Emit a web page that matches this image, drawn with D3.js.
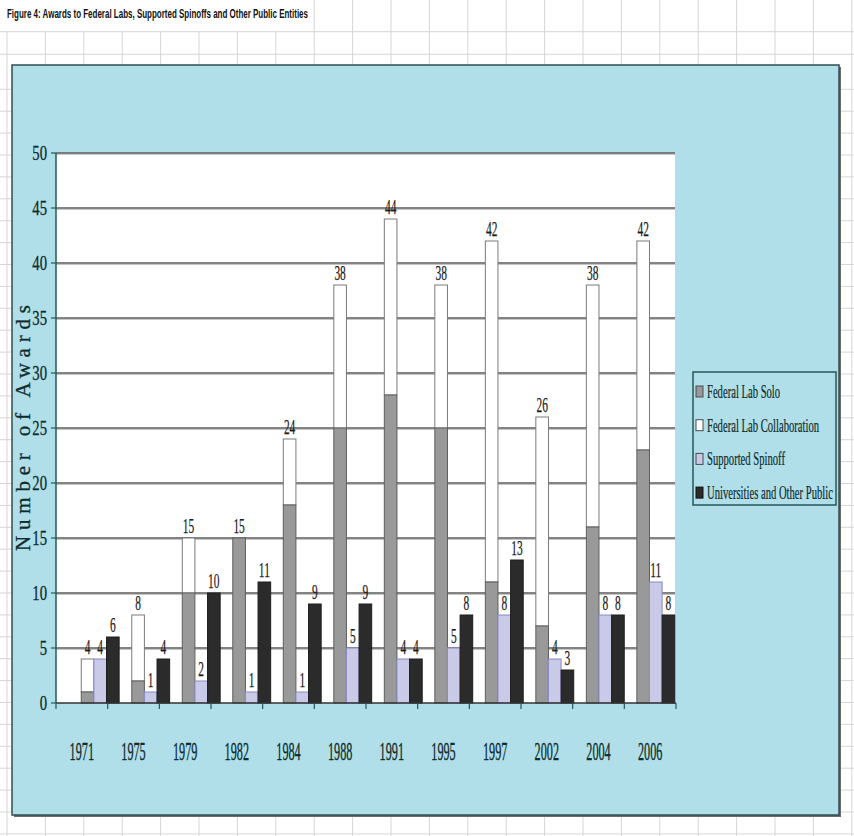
<!DOCTYPE html>
<html>
<head>
<meta charset="utf-8">
<script src="https://cdn.jsdelivr.net/npm/d3@7"></script>
<style>
  html, body { margin: 0; padding: 0; background: #fff; }
  svg { display: block; }
</style>
</head>
<body>
<script>
// ---------------- data ----------------
const titleText = "Figure 4: Awards to Federal Labs, Supported Spinoffs and Other Public Entities";
const years = ["1971","1975","1979","1982","1984","1988","1991","1995","1997","2002","2004","2006"];
const fedSolo = [1, 2, 10, 15, 18, 25, 28, 25, 11, 7, 16, 23];
const fedCollab = [3, 6, 5, 0, 6, 13, 16, 13, 31, 19, 22, 19];
const spinoff = [4, 1, 2, 1, 1, 5, 4, 5, 8, 4, 8, 11];
const universities = [6, 4, 10, 11, 9, 9, 4, 8, 13, 3, 8, 8];
const yTicks = [0, 5, 10, 15, 20, 25, 30, 35, 40, 45, 50];
const seriesNames = ["Federal Lab Solo", "Federal Lab Collaboration", "Supported Spinoff", "Universities and Other Public"];
const yTitle = "Number of Awards";

// ---------------- setup ----------------
const W = 854, H = 836;
const svg = d3.select("body").append("svg").attr("width", W).attr("height", H);
const serif = "'Liberation Serif', 'Times New Roman', serif";
const sans = "'Liberation Sans', Arial, sans-serif";
const textColor = "#0f2c2c";

function squish(sel, factor) {
  sel.each(function () {
    const len = this.getComputedTextLength();
    d3.select(this).attr("textLength", len * factor).attr("lengthAdjust", "spacingAndGlyphs");
  });
}

// spreadsheet grid background
const gridG = svg.append("g").attr("stroke", "#d6d6d6").attr("stroke-width", 1);
const colXs = d3.range(0, 23).map(k => 7 + 38.4 * k);
const rowYs = [31.7, 54.3].concat(d3.range(0, 36).map(k => 89.3 + 21.9 * k));
colXs.forEach(x => gridG.append("line").attr("x1", x).attr("x2", x).attr("y1", 0).attr("y2", H));
rowYs.forEach(y => gridG.append("line").attr("x1", 0).attr("x2", W).attr("y1", y).attr("y2", y));
// title cell overflow
svg.append("rect").attr("x", 0).attr("y", 0).attr("width", 312).attr("height", 31).attr("fill", "#fff");
svg.append("text").attr("x", 7).attr("y", 18).attr("font-family", sans).attr("font-weight", "bold")
  .attr("font-size", 12).attr("fill", "#111").text(titleText)
  .attr("textLength", 301).attr("lengthAdjust", "spacingAndGlyphs");

// chart area
const CA = { x: 12, y: 65, w: 827, h: 750 };
svg.append("rect").attr("x", CA.x + 2).attr("y", CA.y + 2).attr("width", CA.w).attr("height", CA.h).attr("fill", "#6b6b6b");
svg.append("rect").attr("x", CA.x).attr("y", CA.y).attr("width", CA.w).attr("height", CA.h)
  .attr("fill", "#b0dfea").attr("stroke", "#2f4f4f").attr("stroke-width", 1.5);

// plot area
const P = { left: 56, right: 675, top: 153, bottom: 703 };
svg.append("rect").attr("x", P.left).attr("y", P.top).attr("width", P.right - P.left).attr("height", P.bottom - P.top).attr("fill", "#fff");

const y = d3.scaleLinear().domain([0, 50]).range([P.bottom, P.top]);
const xAxisScale = d3.scaleBand().domain(years).range([P.left, P.right + 1]).padding(0);
const xGroup = d3.scaleBand().domain(years).range([P.left, 700]).paddingInner(0.25).paddingOuter(0.5);
const xSub = d3.scaleBand().domain(["fed", "spin", "univ"]).range([0, xGroup.bandwidth()]).padding(0);

// gridlines
const gl = svg.append("g");
yTicks.filter(t => t > 0).forEach(t => {
  gl.append("line").attr("x1", P.left).attr("x2", P.right).attr("y1", y(t) + 1.5).attr("y2", y(t) + 1.5).attr("stroke", "#c4c4c4").attr("stroke-width", 1.2);
  gl.append("line").attr("x1", P.left).attr("x2", P.right).attr("y1", y(t)).attr("y2", y(t)).attr("stroke", "#5a5a5a").attr("stroke-width", 1.3);
});

// bars
const rows = years.map((yr, i) => ({ yr, solo: fedSolo[i], collab: fedCollab[i], spin: spinoff[i], univ: universities[i] }));
const bars = svg.append("g");
rows.forEach(d => {
  const gx = xGroup(d.yr);
  const bw = xSub.bandwidth();
  if (d.collab > 0) {
    bars.append("rect").attr("x", gx + xSub("fed")).attr("y", y(d.solo + d.collab)).attr("width", bw)
      .attr("height", y(d.solo) - y(d.solo + d.collab)).attr("fill", "#ffffff").attr("stroke", "#7a7a7a").attr("stroke-width", 1);
  }
  bars.append("rect").attr("x", gx + xSub("fed")).attr("y", y(d.solo)).attr("width", bw)
    .attr("height", y(0) - y(d.solo)).attr("fill", "#999999").attr("stroke", "#5e5e5e").attr("stroke-width", 1);
  bars.append("rect").attr("x", gx + xSub("spin")).attr("y", y(d.spin)).attr("width", bw)
    .attr("height", y(0) - y(d.spin)).attr("fill", "#c9c9e8").attr("stroke", "#8a8ac8").attr("stroke-width", 1);
  bars.append("rect").attr("x", gx + xSub("univ")).attr("y", y(d.univ)).attr("width", bw)
    .attr("height", y(0) - y(d.univ)).attr("fill", "#2b2b2b").attr("stroke", "#1e1e1e").attr("stroke-width", 1);
});

// value labels
const lab = svg.append("g").attr("font-family", serif).attr("font-size", 22).attr("fill", "#1a1a1a")
  .attr("stroke", "#1a1a1a").attr("stroke-width", 0.25).attr("text-anchor", "middle");
rows.forEach(d => {
  const gx = xGroup(d.yr);
  const bw = xSub.bandwidth();
  const items = [
    { k: "fed", v: d.solo + d.collab },
    { k: "spin", v: d.spin },
    { k: "univ", v: d.univ }
  ];
  items.forEach(it => {
    lab.append("text").attr("x", gx + xSub(it.k) + bw / 2).attr("y", y(it.v) - 5).text(it.v);
  });
});
squish(lab.selectAll("text"), 0.52);

// y axis
const axisColor = "#245858";
svg.append("line").attr("x1", P.left).attr("x2", P.left).attr("y1", P.top).attr("y2", P.bottom).attr("stroke", axisColor).attr("stroke-width", 1.5);
const yl = svg.append("g").attr("font-family", serif).attr("font-size", 21).attr("fill", textColor)
  .attr("stroke", textColor).attr("stroke-width", 0.3).attr("text-anchor", "end");
yTicks.forEach(t => {
  svg.append("line").attr("x1", P.left - 5).attr("x2", P.left).attr("y1", y(t)).attr("y2", y(t)).attr("stroke", axisColor).attr("stroke-width", 1.2);
  yl.append("text").attr("x", 47).attr("y", y(t) + 7).text(t);
});
squish(yl.selectAll("text"), 0.7);

// x axis
svg.append("line").attr("x1", P.left).attr("x2", P.right + 1).attr("y1", P.bottom).attr("y2", P.bottom).attr("stroke", "#333").attr("stroke-width", 1.5);
years.forEach(yr => {
  const bx = xAxisScale(yr);
  svg.append("line").attr("x1", bx).attr("x2", bx).attr("y1", P.bottom).attr("y2", P.bottom + 6).attr("stroke", axisColor).attr("stroke-width", 1.2);
});
svg.append("line").attr("x1", xAxisScale.range()[1]).attr("x2", xAxisScale.range()[1]).attr("y1", P.bottom).attr("y2", P.bottom + 6).attr("stroke", axisColor).attr("stroke-width", 1.2);
const xl = svg.append("g").attr("font-family", serif).attr("font-size", 26).attr("fill", textColor)
  .attr("stroke", textColor).attr("stroke-width", 0.35).attr("text-anchor", "middle");
years.forEach(yr => {
  xl.append("text").attr("x", xAxisScale(yr) + xAxisScale.bandwidth() / 2).attr("y", 760).text(yr);
});
squish(xl.selectAll("text"), 0.47);

// y axis title
svg.append("text").attr("transform", `translate(30,${(P.top + P.bottom) / 2}) rotate(-90)`)
  .attr("text-anchor", "middle").attr("font-family", serif).attr("font-size", 21).attr("fill", textColor)
  .attr("stroke", textColor).attr("stroke-width", 0.3)
  .attr("textLength", 246).attr("lengthAdjust", "spacing").text(yTitle);

// legend
const L = { x: 693, y: 372, w: 143, h: 133 };
svg.append("rect").attr("x", L.x).attr("y", L.y).attr("width", L.w).attr("height", L.h)
  .attr("fill", "#b0dfea").attr("stroke", "#245858").attr("stroke-width", 1.5);
const swatches = [
  { fill: "#999999", stroke: "#4a4a4a" },
  { fill: "#ffffff", stroke: "#4a4a4a" },
  { fill: "#c9c9e8", stroke: "#4a4a4a" },
  { fill: "#2b2b2b", stroke: "#111" }
];
const lg = svg.append("g");
const lt = svg.append("g").attr("font-family", serif).attr("font-size", 18).attr("fill", textColor)
  .attr("stroke", textColor).attr("stroke-width", 0.2);
const legendItems = [];
seriesNames.forEach((name, i) => {
  const cy = 392 + i * 33.7;
  lg.append("rect").attr("x", 696).attr("y", cy - 6).attr("width", 7).attr("height", 11)
    .attr("fill", swatches[i].fill).attr("stroke", swatches[i].stroke).attr("stroke-width", 1);
  const g = lt.append("g").attr("data-cy", cy);
  g.append("text").attr("x", 0).attr("y", 0).text(name);
  legendItems.push(g);
});
// compress legend texts uniformly (via transform) so the longest fits inside the box
let maxLen = 0;
lt.selectAll("text").each(function () { maxLen = Math.max(maxLen, this.getComputedTextLength()); });
const sx = (L.x + L.w - 3 - 707) / maxLen;
legendItems.forEach(g => {
  g.attr("transform", `translate(707,${+g.attr("data-cy") + 6}) scale(${sx},1)`);
});
</script>
</body>
</html>
